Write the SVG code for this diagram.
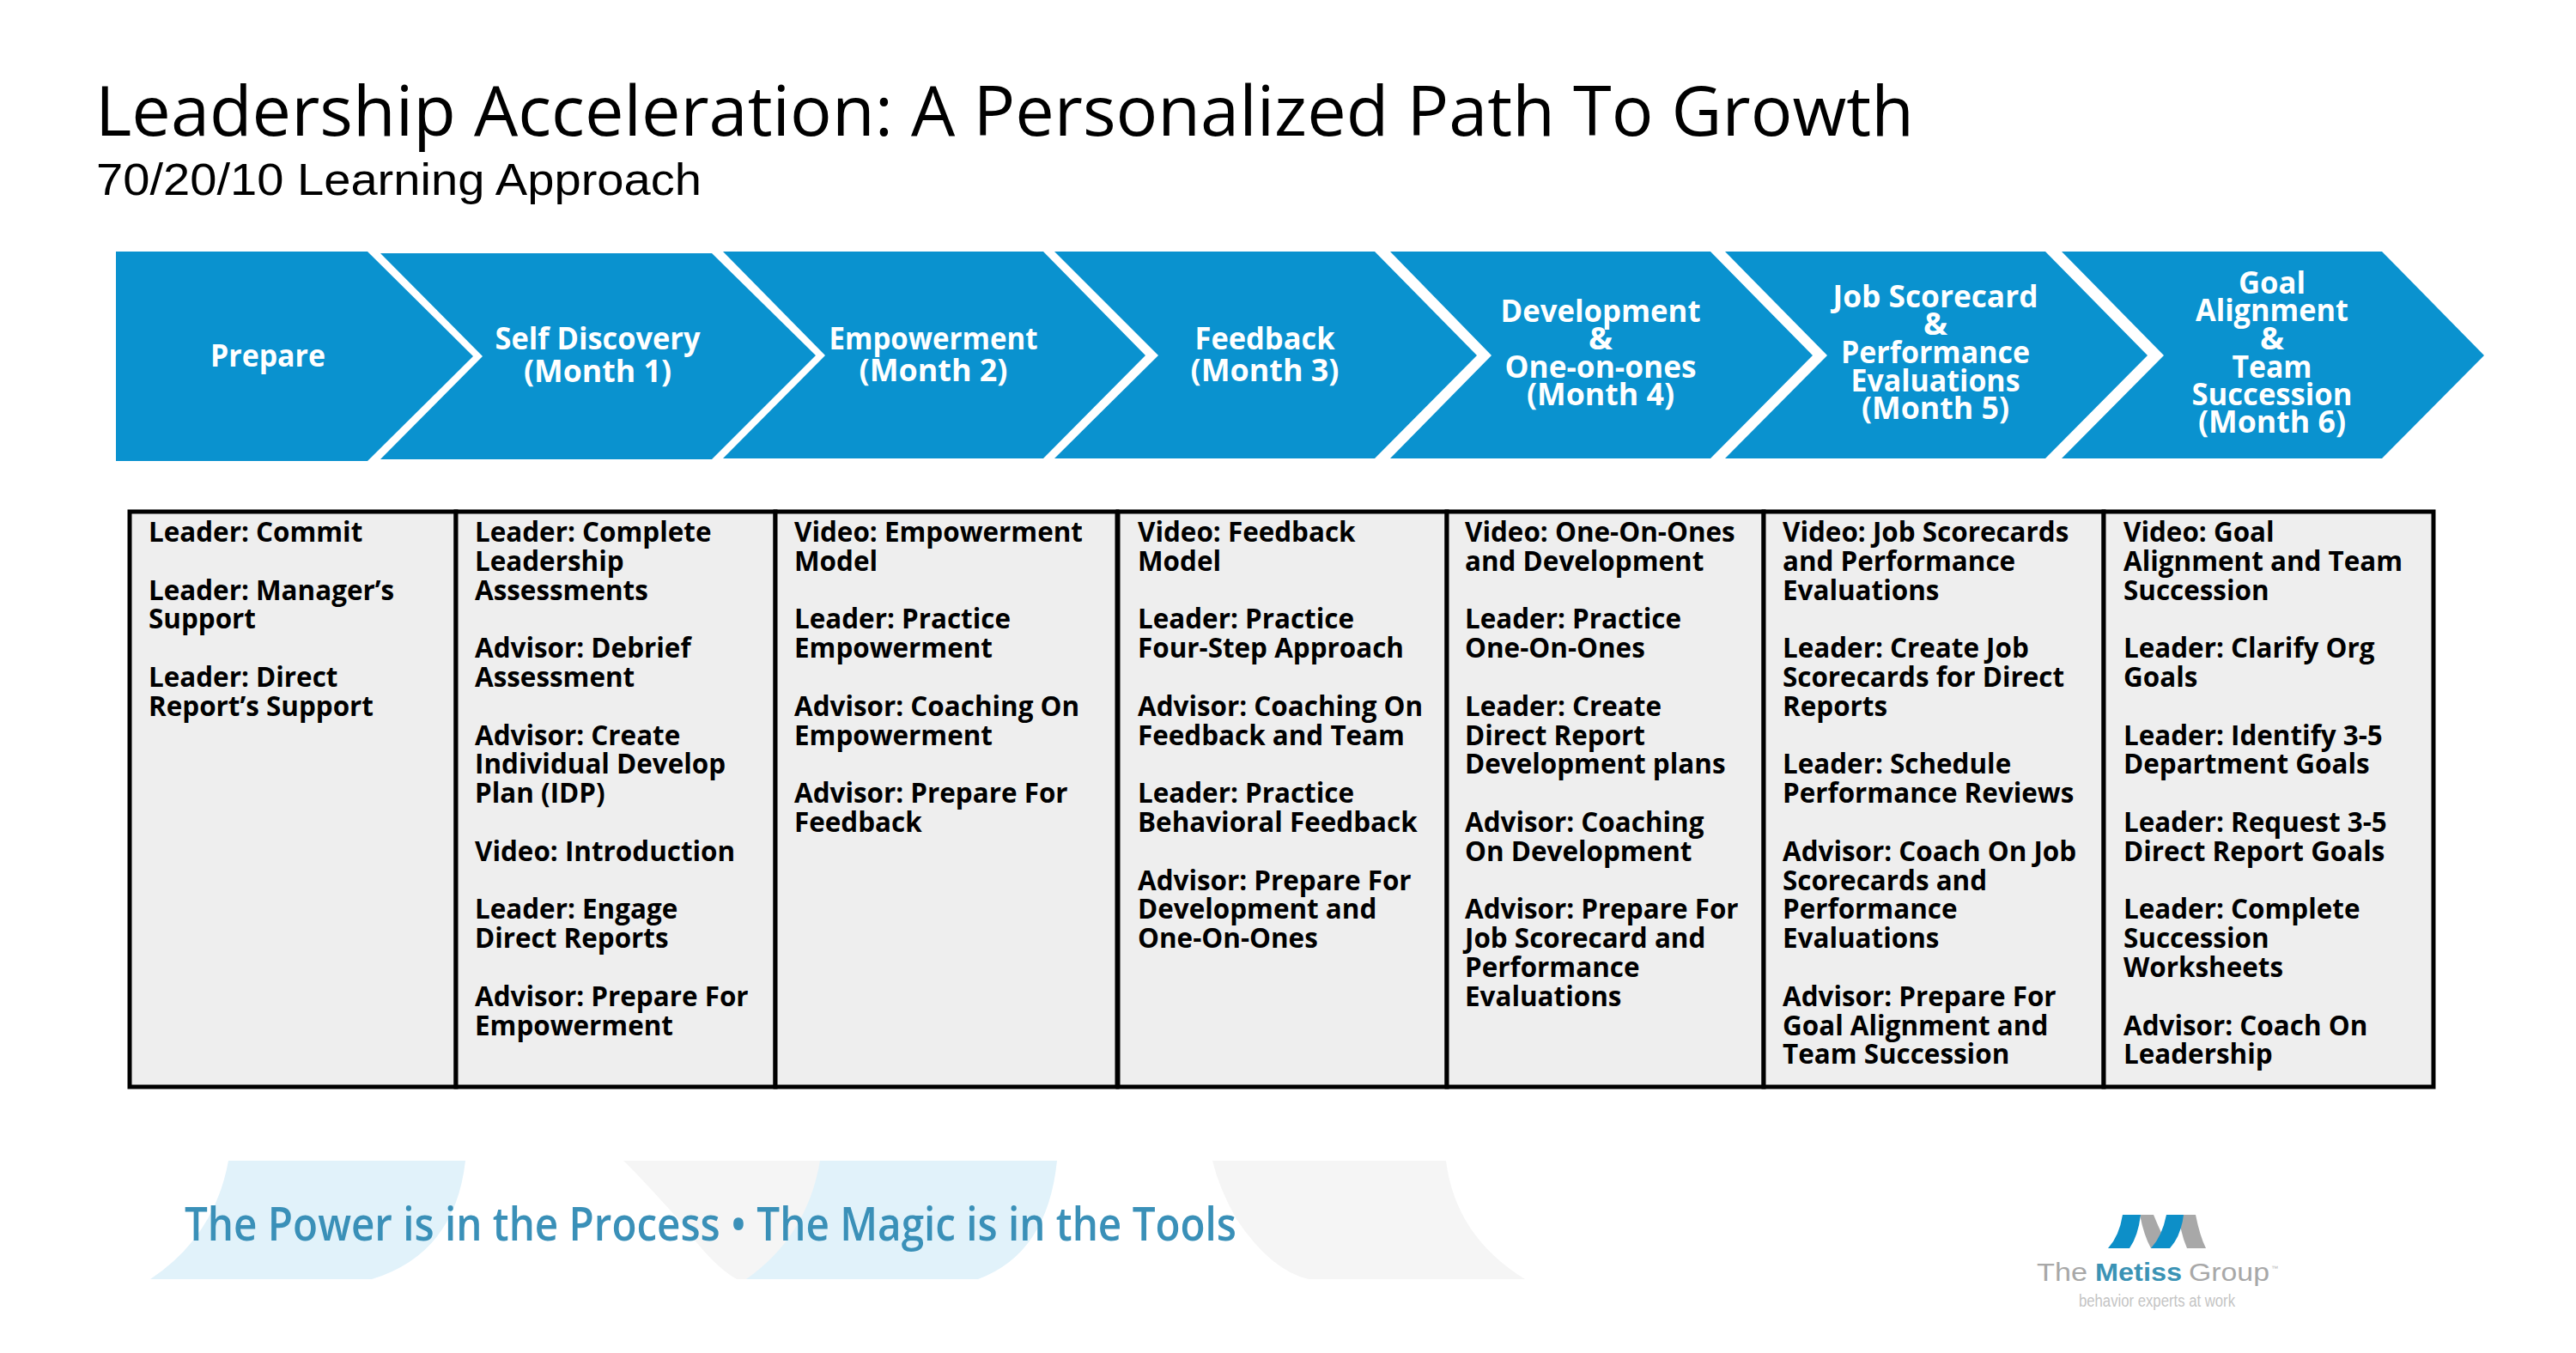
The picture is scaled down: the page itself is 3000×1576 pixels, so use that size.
<svg xmlns="http://www.w3.org/2000/svg" width="3000" height="1576" viewBox="0 0 3000 1576">
<style>
.chev{fill:#0a92cf}
.hd{font-family:"Open Sans","Liberation Sans",sans-serif;font-weight:700;font-size:36px;fill:#fff;text-anchor:middle}
.cell{fill:#eeeeee;stroke:#000;stroke-width:5}
.bd{font-family:"Open Sans","Liberation Sans",sans-serif;font-weight:700;font-size:31.4px;fill:#000}
.lb{fill:#e1f2fa}.lg{fill:#f5f5f5}
</style>
<rect width="3000" height="1576" fill="#fff"/>
<g id="title">
<text x="111" y="158" font-family="'Open Sans','Liberation Sans',sans-serif" font-size="81" fill="#000" textLength="2118" lengthAdjust="spacingAndGlyphs">Leadership Acceleration: A Personalized Path To Growth</text>
<text x="112" y="227" font-family="'Liberation Sans',Arial,sans-serif" font-size="52" fill="#000" textLength="705" lengthAdjust="spacingAndGlyphs">70/20/10 Learning Approach</text>
</g>
<g id="step-prepare"><polygon class="chev" points="135,293 428,293 551,415 428,537 135,537"/>
<text class="hd" x="312" y="427" textLength="134" lengthAdjust="spacingAndGlyphs">Prepare</text></g>
<g id="step-self-discovery"><polygon class="chev" points="443,295 829,295 950,414 829,535 443,535 562,415"/>
<text class="hd" x="696" y="407" textLength="239" lengthAdjust="spacingAndGlyphs">Self Discovery</text>
<text class="hd" x="696" y="445" textLength="172" lengthAdjust="spacingAndGlyphs">(Month 1)</text></g>
<g id="step-empowerment"><polygon class="chev" points="842,293 1215,293 1334,414 1215,534 842,534 961,414"/>
<text class="hd" x="1087" y="407" textLength="243" lengthAdjust="spacingAndGlyphs">Empowerment</text>
<text class="hd" x="1087" y="444" textLength="173" lengthAdjust="spacingAndGlyphs">(Month 2)</text></g>
<g id="step-feedback"><polygon class="chev" points="1228,293 1601,293 1720,414 1601,534 1228,534 1349,414"/>
<text class="hd" x="1473" y="407" textLength="163" lengthAdjust="spacingAndGlyphs">Feedback</text>
<text class="hd" x="1473" y="444" textLength="173" lengthAdjust="spacingAndGlyphs">(Month 3)</text></g>
<g id="step-development"><polygon class="chev" points="1619,293 1992,293 2111,414 1992,534 1619,534 1737,414"/>
<text class="hd" x="1864" y="375" textLength="233" lengthAdjust="spacingAndGlyphs">Development</text>
<text class="hd" x="1864" y="407" textLength="28" lengthAdjust="spacingAndGlyphs">&amp;</text>
<text class="hd" x="1864" y="440" textLength="223" lengthAdjust="spacingAndGlyphs">One-on-ones</text>
<text class="hd" x="1864" y="472" textLength="172" lengthAdjust="spacingAndGlyphs">(Month 4)</text></g>
<g id="step-job-scorecard"><polygon class="chev" points="2009,293 2382,293 2501,414 2382,534 2009,534 2128,414"/>
<text class="hd" x="2254" y="358" textLength="239" lengthAdjust="spacingAndGlyphs">Job Scorecard</text>
<text class="hd" x="2254" y="390" textLength="28" lengthAdjust="spacingAndGlyphs">&amp;</text>
<text class="hd" x="2254" y="423" textLength="220" lengthAdjust="spacingAndGlyphs">Performance</text>
<text class="hd" x="2254" y="456" textLength="197" lengthAdjust="spacingAndGlyphs">Evaluations</text>
<text class="hd" x="2254" y="488" textLength="172" lengthAdjust="spacingAndGlyphs">(Month 5)</text></g>
<g id="step-goal-alignment"><polygon class="chev" points="2401,293 2774,293 2893,414 2774,534 2401,534 2520,414"/>
<text class="hd" x="2646" y="342" textLength="78" lengthAdjust="spacingAndGlyphs">Goal</text>
<text class="hd" x="2646" y="374" textLength="178" lengthAdjust="spacingAndGlyphs">Alignment</text>
<text class="hd" x="2646" y="407" textLength="28" lengthAdjust="spacingAndGlyphs">&amp;</text>
<text class="hd" x="2646" y="440" textLength="93" lengthAdjust="spacingAndGlyphs">Team</text>
<text class="hd" x="2646" y="472" textLength="187" lengthAdjust="spacingAndGlyphs">Succession</text>
<text class="hd" x="2646" y="504" textLength="172" lengthAdjust="spacingAndGlyphs">(Month 6)</text></g>
<g id="cell-prepare"><rect class="cell" x="151" y="596" width="380" height="670"/>
<text class="bd"><tspan x="173" y="631">Leader: Commit</tspan><tspan x="173" y="698.6">Leader: Manager’s</tspan><tspan x="173" y="732.4">Support</tspan><tspan x="173" y="800">Leader: Direct</tspan><tspan x="173" y="833.8">Report’s Support</tspan></text></g>
<g id="cell-month-1"><rect class="cell" x="531" y="596" width="372" height="670"/>
<text class="bd"><tspan x="553" y="631">Leader: Complete</tspan><tspan x="553" y="664.8">Leadership</tspan><tspan x="553" y="698.6">Assessments</tspan><tspan x="553" y="766.2">Advisor: Debrief</tspan><tspan x="553" y="800">Assessment</tspan><tspan x="553" y="867.6">Advisor: Create</tspan><tspan x="553" y="901.4">Individual Develop</tspan><tspan x="553" y="935.2">Plan (IDP)</tspan><tspan x="553" y="1002.8">Video: Introduction</tspan><tspan x="553" y="1070.4">Leader: Engage</tspan><tspan x="553" y="1104.2">Direct Reports</tspan><tspan x="553" y="1171.8">Advisor: Prepare For</tspan><tspan x="553" y="1205.6">Empowerment</tspan></text></g>
<g id="cell-month-2"><rect class="cell" x="903" y="596" width="398" height="670"/>
<text class="bd"><tspan x="925" y="631">Video: Empowerment</tspan><tspan x="925" y="664.8">Model</tspan><tspan x="925" y="732.4">Leader: Practice</tspan><tspan x="925" y="766.2">Empowerment</tspan><tspan x="925" y="833.8">Advisor: Coaching On</tspan><tspan x="925" y="867.6">Empowerment</tspan><tspan x="925" y="935.2">Advisor: Prepare For</tspan><tspan x="925" y="969">Feedback</tspan></text></g>
<g id="cell-month-3"><rect class="cell" x="1302" y="596" width="383" height="670"/>
<text class="bd"><tspan x="1325" y="631">Video: Feedback</tspan><tspan x="1325" y="664.8">Model</tspan><tspan x="1325" y="732.4">Leader: Practice</tspan><tspan x="1325" y="766.2">Four-Step Approach</tspan><tspan x="1325" y="833.8">Advisor: Coaching On</tspan><tspan x="1325" y="867.6">Feedback and Team</tspan><tspan x="1325" y="935.2">Leader: Practice</tspan><tspan x="1325" y="969">Behavioral Feedback</tspan><tspan x="1325" y="1036.6">Advisor: Prepare For</tspan><tspan x="1325" y="1070.4">Development and</tspan><tspan x="1325" y="1104.2">One-On-Ones</tspan></text></g>
<g id="cell-month-4"><rect class="cell" x="1685" y="596" width="369" height="670"/>
<text class="bd"><tspan x="1706" y="631">Video: One-On-Ones</tspan><tspan x="1706" y="664.8">and Development</tspan><tspan x="1706" y="732.4">Leader: Practice</tspan><tspan x="1706" y="766.2">One-On-Ones</tspan><tspan x="1706" y="833.8">Leader: Create</tspan><tspan x="1706" y="867.6">Direct Report</tspan><tspan x="1706" y="901.4">Development plans</tspan><tspan x="1706" y="969">Advisor: Coaching</tspan><tspan x="1706" y="1002.8">On Development</tspan><tspan x="1706" y="1070.4">Advisor: Prepare For</tspan><tspan x="1706" y="1104.2">Job Scorecard and</tspan><tspan x="1706" y="1138">Performance</tspan><tspan x="1706" y="1171.8">Evaluations</tspan></text></g>
<g id="cell-month-5"><rect class="cell" x="2054" y="596" width="396" height="670"/>
<text class="bd"><tspan x="2076" y="631">Video: Job Scorecards</tspan><tspan x="2076" y="664.8">and Performance</tspan><tspan x="2076" y="698.6">Evaluations</tspan><tspan x="2076" y="766.2">Leader: Create Job</tspan><tspan x="2076" y="800">Scorecards for Direct</tspan><tspan x="2076" y="833.8">Reports</tspan><tspan x="2076" y="901.4">Leader: Schedule</tspan><tspan x="2076" y="935.2">Performance Reviews</tspan><tspan x="2076" y="1002.8">Advisor: Coach On Job</tspan><tspan x="2076" y="1036.6">Scorecards and</tspan><tspan x="2076" y="1070.4">Performance</tspan><tspan x="2076" y="1104.2">Evaluations</tspan><tspan x="2076" y="1171.8">Advisor: Prepare For</tspan><tspan x="2076" y="1205.6">Goal Alignment and</tspan><tspan x="2076" y="1239.4">Team Succession</tspan></text></g>
<g id="cell-month-6"><rect class="cell" x="2450" y="596" width="384" height="670"/>
<text class="bd"><tspan x="2473" y="631">Video: Goal</tspan><tspan x="2473" y="664.8">Alignment and Team</tspan><tspan x="2473" y="698.6">Succession</tspan><tspan x="2473" y="766.2">Leader: Clarify Org</tspan><tspan x="2473" y="800">Goals</tspan><tspan x="2473" y="867.6">Leader: Identify 3-5</tspan><tspan x="2473" y="901.4">Department Goals</tspan><tspan x="2473" y="969">Leader: Request 3-5</tspan><tspan x="2473" y="1002.8">Direct Report Goals</tspan><tspan x="2473" y="1070.4">Leader: Complete</tspan><tspan x="2473" y="1104.2">Succession</tspan><tspan x="2473" y="1138">Worksheets</tspan><tspan x="2473" y="1205.6">Advisor: Coach On</tspan><tspan x="2473" y="1239.4">Leadership</tspan></text></g>
<g id="tagline">
<path class="lg" d="M726,1352H955V1490H858Q830,1475 790,1420Q740,1365 726,1352Z"/>
<path class="lg" d="M1412,1352H1684Q1695,1440 1776,1490H1524Q1480,1480 1440,1420Q1420,1385 1412,1352Z"/>
<path class="lb" d="M266,1352H542Q530,1460 433,1490H175Q250,1440 266,1352Z"/>
<path class="lb" d="M955,1352H1231Q1220,1460 1139,1490H869Q940,1440 955,1352Z"/>
<text x="215" y="1445" font-family="'Open Sans','Liberation Sans',sans-serif" font-size="55" font-weight="600" fill="#3a90b8" textLength="1225" lengthAdjust="spacingAndGlyphs">The Power is in the Process • The Magic is in the Tools</text>
</g>
<g id="logo">
<path fill="#a8a8a8" d="M2492,1415H2508Q2518,1440 2527,1454H2505Q2497,1440 2492,1415Z"/>
<path fill="#a8a8a8" d="M2543,1415H2557Q2562,1440 2569,1454H2547Q2541,1440 2538,1422Z"/>
<path fill="#0d8fc8" d="M2472,1415H2493Q2490,1440 2480,1454H2455Q2468,1440 2472,1415Z"/>
<path fill="#0d8fc8" d="M2523,1415H2543Q2540,1440 2527,1454H2505Q2518,1440 2523,1415Z"/>
<text x="2372" y="1492" font-family="'Liberation Sans',Arial,sans-serif" font-size="29" fill="#a8a8a8" textLength="59" lengthAdjust="spacingAndGlyphs">The</text>
<text x="2440" y="1492" font-family="'Liberation Sans',Arial,sans-serif" font-size="29" font-weight="700" fill="#3b93b5" textLength="101" lengthAdjust="spacingAndGlyphs">Metiss</text>
<text x="2549" y="1492" font-family="'Liberation Sans',Arial,sans-serif" font-size="29" fill="#a8a8a8" textLength="94" lengthAdjust="spacingAndGlyphs">Group</text>
<text x="2645" y="1480" font-family="'Liberation Sans',Arial,sans-serif" font-size="8" fill="#b8b8b8">™</text>
<text x="2421" y="1522" font-family="'Liberation Sans',Arial,sans-serif" font-size="20" fill="#c4c4c4" textLength="182" lengthAdjust="spacingAndGlyphs">behavior experts at work</text>
</g>
</svg>
